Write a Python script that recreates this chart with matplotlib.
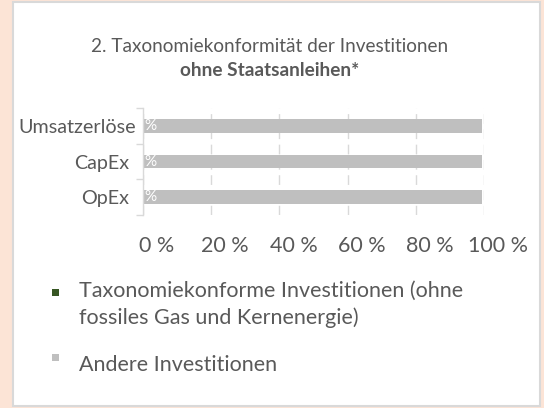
import matplotlib
matplotlib.use("Agg")
import matplotlib.pyplot as plt
import matplotlib.transforms as mtransforms
from matplotlib.patches import Rectangle

categories = ["Umsatzerlöse", "CapEx", "OpEx"]
aligned = [0.0, 0.0, 0.0]
other = [99.4, 99.4, 99.4]
xticks = [0, 20, 40, 60, 80, 100]
xtick_labels = ["0 %", "20 %", "40 %", "60 %", "80 %", "100 %"]
series_names = ["Taxonomiekonforme Investitionen (ohne\nfossiles Gas und Kernenergie)",
                "Andere Investitionen"]
title1 = "2. Taxonomiekonformität der Investitionen"
title2 = "ohne Staatsanleihen*"

GREEN = "#375623"
GRAY = "#BFBFBF"
TEXT = "#595959"
LINE = "#D9D9D9"
FONT = "Lato"

W, H = 544, 408
fig = plt.figure(figsize=(W / 100, H / 100), dpi=100, facecolor="#FCE4D6")

# white panel
fig.patches.append(Rectangle((13 / W, 1 - 406 / H), (540 - 13) / W, (406 - 2) / H,
                             transform=fig.transFigure, facecolor="white",
                             edgecolor=LINE, linewidth=1.5, zorder=-1))

ax = fig.add_axes([143 / W, 1 - 215 / H, 341 / W, 107 / H])
ax.set_zorder(2)
ax.set_facecolor("none")
y = list(range(len(categories)))
ax.barh(y, aligned, height=0.39, color=GREEN, zorder=3)
ax.barh(y, other, left=aligned, height=0.39, color=GRAY, zorder=3)
# data labels of the (0 %) aligned share: only the "%" sign shows on the bar
lab_shift = mtransforms.ScaledTranslation(1 / 100, 0, fig.dpi_scale_trans)
for yi, v in zip(y, aligned):
    ax.text(v, yi, "%", ha="left", va="center", color="white",
            fontsize=11, family=FONT, zorder=4,
            transform=ax.transData + lab_shift)

ax.set_xlim(0, 100)
ax.set_ylim(2.5, -0.5)
ax.set_xticks(xticks)
ax.set_xticklabels(xtick_labels)
ax.set_yticks(y)
ax.set_yticklabels(categories)
ax.set_yticks([-0.5, 0.5, 1.5, 2.5], minor=True)
ax.tick_params(axis="x", length=0, pad=15, labelsize=15.5, labelcolor=TEXT)
ax.tick_params(axis="y", which="major", length=0, pad=10, labelsize=14.2, labelcolor=TEXT)
ax.tick_params(axis="y", which="minor", length=5, width=1, color=LINE)
for lab in ax.get_xticklabels() + ax.get_yticklabels():
    lab.set_family(FONT)
shift_x = mtransforms.ScaledTranslation(14 / 100, 0, fig.dpi_scale_trans)
for lab in ax.get_xticklabels():
    lab.set_transform(lab.get_transform() + shift_x)
first = ax.get_yticklabels()[0]
first.set_transform(first.get_transform() +
                    mtransforms.ScaledTranslation(7 / 100, 0, fig.dpi_scale_trans))
ax.grid(axis="x", color=LINE, linestyle=(0, (7, 4)), linewidth=1, zorder=1)
for s in ["top", "right", "bottom"]:
    ax.spines[s].set_visible(False)
ax.spines["left"].set_color(LINE)
ax.spines["left"].set_linewidth(1)
ax.spines["left"].set_zorder(5)

fig.text(270 / W, 1 - 47 / H, title1, ha="center", va="center", fontsize=13.7,
         color=TEXT, family=FONT)
fig.text(270 / W, 1 - 70 / H, title2, ha="center", va="center", fontsize=13.7,
         color=TEXT, family=FONT, fontweight="bold")

# legend
fig.patches.append(Rectangle((52 / W, 1 - 296 / H), 7 / W, 7 / H, transform=fig.transFigure,
                             facecolor=GREEN, edgecolor="none"))
fig.text(79 / W, 1 - 304 / H, series_names[0], ha="left", va="center", fontsize=15.5,
         color=TEXT, family=FONT, linespacing=1.4)
fig.patches.append(Rectangle((52 / W, 1 - 361 / H), 7 / W, 7 / H, transform=fig.transFigure,
                             facecolor=GRAY, edgecolor="none"))
fig.text(79 / W, 1 - 365 / H, series_names[1], ha="left", va="center", fontsize=15.5,
         color=TEXT, family=FONT)

fig.savefig("out.png", dpi=100, facecolor=fig.get_facecolor())
